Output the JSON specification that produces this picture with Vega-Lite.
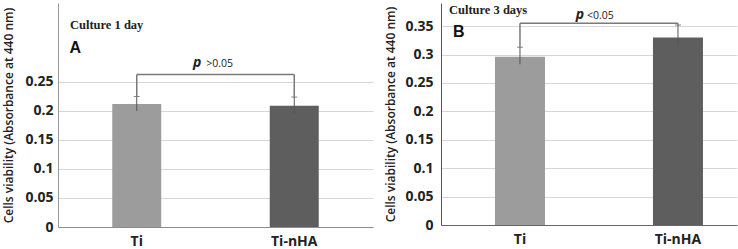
{
  "$schema": "https://vega.github.io/schema/vega-lite/v6.json",
  "padding": {"left": 2, "top": 3, "right": 3, "bottom": 0},
  "background": "white",
  "spacing": 11,
  "config": {
    "view": {"stroke": null},
    "axis": {"ticks": false, "labelFont": "Open Sans", "labelFontWeight": "bold", "labelColor": "#222", "titleFont": "Open Sans", "titleFontSize": 12, "titleFontWeight": 600, "titleColor": "#222", "gridColor": "#d6d6d6", "labelOverlap": false},
    "axisX": {"labelAngle": 0, "labelPadding": 7, "labelFontSize": 14, "grid": false},
    "axisY": {"labelFontSize": 14, "format": "~g", "grid": true}
  },
  "datasets": {
    "a_bars": [
      {"group": "Ti", "value": 0.212, "lo": 0.200, "hi": 0.225},
      {"group": "Ti-nHA", "value": 0.209, "lo": 0.195, "hi": 0.224}
    ],
    "a_bracket": [{"from": "Ti", "to": "Ti-nHA", "level": 0.263}],
    "a_notes": [
      {"group": "Ti", "level": 0.348, "label": "Culture 1 day"},
      {"group": "Ti", "level": 0.309, "label": "A"},
      {"group": "Ti", "level": 0.283, "label": "p"},
      {"group": "Ti", "level": 0.281, "label": ">0.05"}
    ],
    "b_bars": [
      {"group": "Ti", "value": 0.296, "lo": 0.283, "hi": 0.313},
      {"group": "Ti-nHA", "value": 0.330, "lo": 0.314, "hi": 0.352}
    ],
    "b_bracket": [{"from": "Ti", "to": "Ti-nHA", "level": 0.355}],
    "b_notes": [
      {"group": "Ti", "level": 0.3785, "label": "Culture 3 days"},
      {"group": "Ti", "level": 0.340, "label": "B"},
      {"group": "Ti", "level": 0.370, "label": "p"},
      {"group": "Ti", "level": 0.368, "label": "<0.05"}
    ]
  },
  "hconcat": [
    {
      "width": 315,
      "height": 224,
      "layer": [
        {
          "data": {"name": "a_bars"},
          "mark": {"type": "bar", "width": {"band": 0.622}},
          "encoding": {
            "x": {"field": "group", "type": "nominal",
              "scale": {"domain": ["Ti", "Ti-nHA"], "paddingInner": 0.5, "paddingOuter": 0.25},
              "axis": {"title": null, "domainColor": "#8c8c8c"}},
            "y": {"field": "value", "type": "quantitative",
              "scale": {"domain": [0, 0.3862], "nice": false, "zero": true},
              "axis": {"title": "Cells viability (Absorbance at 440 nm)", "values": [0, 0.05, 0.1, 0.15, 0.2, 0.25], "labelOverlap": false, "labelPadding": 5, "domainColor": "#999999", "titlePadding": 9}},
            "color": {"field": "group", "type": "nominal", "scale": {"domain": ["Ti", "Ti-nHA"], "range": ["#9c9c9c", "#5e5e5e"]}, "legend": null}
          }
        },
        {
          "data": {"name": "a_bars"},
          "mark": {"type": "rule", "color": "#555555", "strokeWidth": 1},
          "encoding": {
            "x": {"field": "group", "type": "nominal"},
            "y": {"field": "lo", "type": "quantitative"},
            "y2": {"field": "hi"}
          }
        },
        {
          "data": {"name": "a_bars"},
          "mark": {"type": "tick", "color": "#555555", "size": 6, "thickness": 1, "orient": "horizontal"},
          "encoding": {
            "x": {"field": "group", "type": "nominal"},
            "y": {"field": "hi", "type": "quantitative"}
          }
        },
        {
          "data": {"name": "a_bars"},
          "mark": {"type": "rule", "color": "#7a7a7a", "strokeWidth": 1.5},
          "encoding": {
            "x": {"field": "group", "type": "nominal"},
            "y": {"field": "hi", "type": "quantitative"},
            "y2": {"datum": 0.263}
          }
        },
        {
          "data": {"name": "a_bracket"},
          "mark": {"type": "rule", "color": "#7a7a7a", "strokeWidth": 1.5},
          "encoding": {
            "x": {"field": "from", "type": "nominal"},
            "x2": {"field": "to"},
            "y": {"field": "level", "type": "quantitative"}
          }
        },
        {
          "data": {"name": "a_notes"},
          "transform": [{"filter": "datum.label == 'Culture 1 day'"}],
          "mark": {"type": "text", "align": "left", "baseline": "middle", "dx": -27.4, "font": "Liberation Serif", "fontWeight": "bold", "fontSize": 12.5, "color": "#222"},
          "encoding": {
            "x": {"field": "group", "type": "nominal", "bandPosition": 0},
            "y": {"field": "level", "type": "quantitative"},
            "text": {"field": "label"}
          }
        },
        {
          "data": {"name": "a_notes"},
          "transform": [{"filter": "datum.label == 'A'"}],
          "mark": {"type": "text", "align": "left", "baseline": "middle", "dx": -28, "font": "Liberation Sans", "fontWeight": "bold", "fontSize": 16, "color": "#111"},
          "encoding": {
            "x": {"field": "group", "type": "nominal", "bandPosition": 0},
            "y": {"field": "level", "type": "quantitative"},
            "text": {"field": "label"}
          }
        },
        {
          "data": {"name": "a_notes"},
          "transform": [{"filter": "datum.label == 'p'"}],
          "mark": {"type": "text", "align": "right", "baseline": "middle", "dx": 64.5, "font": "Open Sans", "fontWeight": "bold", "fontStyle": "italic", "fontSize": 14, "color": "#222"},
          "encoding": {
            "x": {"field": "group", "type": "nominal"},
            "y": {"field": "level", "type": "quantitative"},
            "text": {"field": "label"}
          }
        },
        {
          "data": {"name": "a_notes"},
          "transform": [{"filter": "datum.label == '>0.05'"}],
          "mark": {"type": "text", "align": "left", "baseline": "middle", "dx": 69.5, "font": "Open Sans", "fontSize": 10.5, "color": "#222"},
          "encoding": {
            "x": {"field": "group", "type": "nominal"},
            "y": {"field": "level", "type": "quantitative"},
            "text": {"field": "label"}
          }
        }
      ]
    },
    {
      "width": 296,
      "height": 222,
      "layer": [
        {
          "data": {"name": "b_bars"},
          "mark": {"type": "bar", "width": {"band": 0.633}},
          "encoding": {
            "x": {"field": "group", "type": "nominal",
              "scale": {"domain": ["Ti", "Ti-nHA"], "paddingInner": 0.5, "paddingOuter": 0.1867, "align": 0.669},
              "axis": {"title": null, "domainColor": "#666666"}},
            "y": {"field": "value", "type": "quantitative",
              "scale": {"domain": [0, 0.3908], "nice": false, "zero": true},
              "axis": {"title": "Cells viability (Absorbance at 440 nm)", "values": [0, 0.05, 0.1, 0.15, 0.2, 0.25, 0.3, 0.35], "labelOverlap": false, "tickCount": 8, "labelPadding": 8, "domainColor": "#555555", "titlePadding": 7}},
            "color": {"field": "group", "type": "nominal", "scale": {"domain": ["Ti", "Ti-nHA"], "range": ["#9c9c9c", "#5e5e5e"]}, "legend": null}
          }
        },
        {
          "data": {"name": "b_bars"},
          "mark": {"type": "rule", "color": "#555555", "strokeWidth": 1},
          "encoding": {
            "x": {"field": "group", "type": "nominal"},
            "y": {"field": "lo", "type": "quantitative"},
            "y2": {"field": "hi"}
          }
        },
        {
          "data": {"name": "b_bars"},
          "mark": {"type": "tick", "color": "#555555", "size": 6, "thickness": 1, "orient": "horizontal"},
          "encoding": {
            "x": {"field": "group", "type": "nominal"},
            "y": {"field": "hi", "type": "quantitative"}
          }
        },
        {
          "data": {"name": "b_bars"},
          "mark": {"type": "rule", "color": "#7a7a7a", "strokeWidth": 1.5},
          "encoding": {
            "x": {"field": "group", "type": "nominal"},
            "y": {"field": "hi", "type": "quantitative"},
            "y2": {"datum": 0.355}
          }
        },
        {
          "data": {"name": "b_bracket"},
          "mark": {"type": "rule", "color": "#7a7a7a", "strokeWidth": 1.5},
          "encoding": {
            "x": {"field": "from", "type": "nominal"},
            "x2": {"field": "to"},
            "y": {"field": "level", "type": "quantitative"}
          }
        },
        {
          "data": {"name": "b_notes"},
          "transform": [{"filter": "datum.label == 'Culture 3 days'"}],
          "mark": {"type": "text", "align": "left", "baseline": "middle", "dx": -31.5, "font": "Liberation Serif", "fontWeight": "bold", "fontSize": 12.5, "color": "#222"},
          "encoding": {
            "x": {"field": "group", "type": "nominal", "bandPosition": 0},
            "y": {"field": "level", "type": "quantitative"},
            "text": {"field": "label"}
          }
        },
        {
          "data": {"name": "b_notes"},
          "transform": [{"filter": "datum.label == 'B'"}],
          "mark": {"type": "text", "align": "left", "baseline": "middle", "dx": -27.5, "font": "Liberation Sans", "fontWeight": "bold", "fontSize": 16, "color": "#111"},
          "encoding": {
            "x": {"field": "group", "type": "nominal", "bandPosition": 0},
            "y": {"field": "level", "type": "quantitative"},
            "text": {"field": "label"}
          }
        },
        {
          "data": {"name": "b_notes"},
          "transform": [{"filter": "datum.label == 'p'"}],
          "mark": {"type": "text", "align": "right", "baseline": "middle", "dx": 64, "font": "Open Sans", "fontWeight": "bold", "fontStyle": "italic", "fontSize": 14, "color": "#222"},
          "encoding": {
            "x": {"field": "group", "type": "nominal"},
            "y": {"field": "level", "type": "quantitative"},
            "text": {"field": "label"}
          }
        },
        {
          "data": {"name": "b_notes"},
          "transform": [{"filter": "datum.label == '<0.05'"}],
          "mark": {"type": "text", "align": "left", "baseline": "middle", "dx": 67, "font": "Open Sans", "fontSize": 10.5, "color": "#222"},
          "encoding": {
            "x": {"field": "group", "type": "nominal"},
            "y": {"field": "level", "type": "quantitative"},
            "text": {"field": "label"}
          }
        }
      ]
    }
  ]
}
